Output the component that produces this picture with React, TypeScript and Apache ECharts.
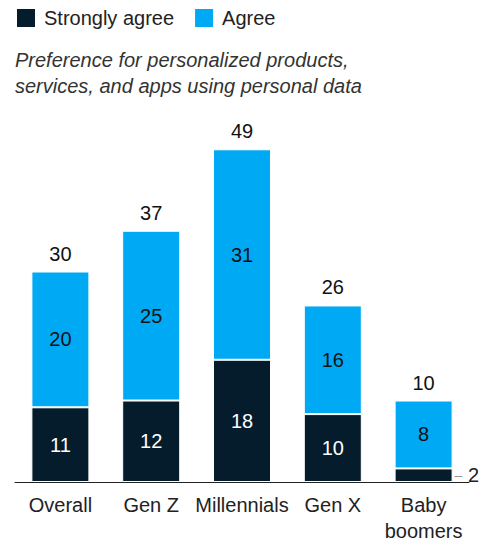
import React, { useEffect, useRef } from "react";
import * as echarts from "echarts";

const categories = ["Overall", "Gen Z", "Millennials", "Gen X", "Baby\nboomers"];
// bar heights as drawn
const stronglyAgree = [11, 12, 18, 10, 2];
const agree = [20, 25, 31, 16, 10];
// printed labels
const agreeLabels = [20, 25, 31, 16, 8];
const totals = [30, 37, 49, 26, 10];

const DARK = "#051c2c";
const LIGHT = "#00a9f4";
const FONT = "Liberation Sans, Arial, sans-serif";
const FS = 20;

export default function App() {
  const ref = useRef<HTMLDivElement>(null);
  useEffect(() => {
    const chart = echarts.init(ref.current!, null, { renderer: "svg" });
    chart.setOption({
      animation: false,
      textStyle: { fontFamily: FONT },
      title: {
        text: "Preference for personalized products,\nservices, and apps using personal data",
        left: 15,
        top: 47,
        padding: 0,
        textStyle: {
          fontFamily: FONT,
          fontStyle: "italic",
          fontWeight: "normal",
          fontSize: FS,
          lineHeight: 26,
          color: "#333",
        },
      },
      legend: {
        left: 15,
        top: 7,
        padding: 0,
        itemWidth: 20,
        itemHeight: 20,
        itemGap: 19,
        icon: "rect",
        data: ["Strongly agree", "Agree"],
        textStyle: { fontFamily: FONT, fontSize: FS, color: "#222", padding: [0, 0, 0, 3] },
      },
      grid: { left: 15, right: 23, top: 142.5, bottom: 60 },
      xAxis: {
        type: "category",
        data: categories,
        axisLine: { lineStyle: { color: "#222", width: 1 } },
        axisTick: { show: false },
        axisLabel: {
          interval: 0,
          fontFamily: FONT,
          fontSize: FS,
          color: "#222",
          lineHeight: 26,
          margin: 10,
        },
      },
      yAxis: { type: "value", min: 0, max: 50, show: false, splitLine: { show: false } },
      series: [
        {
          name: "Strongly agree",
          type: "bar",
          stack: "s",
          barWidth: 58,
          itemStyle: { color: DARK, borderColor: "#fff", borderWidth: 1 },
          label: { show: true, position: "inside", color: "#fff", fontSize: FS, fontFamily: FONT },
          data: stronglyAgree.map((v, i) =>
            i === 4
              ? {
                  value: v,
                  label: {
                    position: "right",
                    distance: 2,
                    color: "#222",
                    formatter: "{d|–} " + v,
                    rich: { d: { color: "#999", fontSize: 14 } },
                  },
                }
              : v
          ),
        },
        {
          name: "Agree",
          type: "bar",
          stack: "s",
          barWidth: 58,
          itemStyle: { color: LIGHT, borderColor: "#fff", borderWidth: 1 },
          label: {
            show: true,
            position: "inside",
            color: "#111",
            fontSize: FS,
            fontFamily: FONT,
            formatter: (p: any) => String(agreeLabels[p.dataIndex]),
          },
          data: agree,
        },
        {
          name: "Total",
          type: "bar",
          stack: "s",
          barWidth: 58,
          silent: true,
          itemStyle: { color: "transparent" },
          label: {
            show: true,
            position: "top",
            distance: 8,
            color: "#111",
            fontSize: FS,
            fontFamily: FONT,
            formatter: (p: any) => String(totals[p.dataIndex]),
          },
          data: totals.map(() => 0),
        },
      ],
    });
    return () => chart.dispose();
  }, []);
  return (
    <div
      ref={ref}
      style={{ position: "fixed", left: 0, top: 0, width: 492, height: 544, background: "#fff" }}
    />
  );
}
